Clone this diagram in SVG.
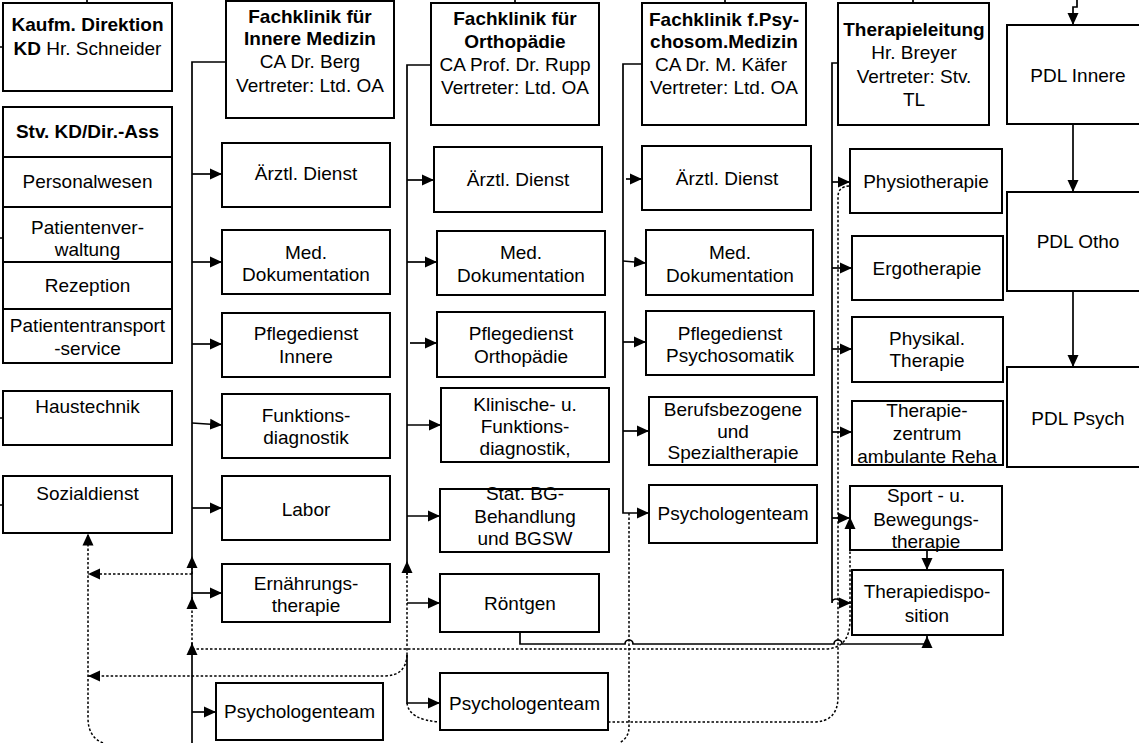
<svg xmlns="http://www.w3.org/2000/svg" width="1139" height="743" viewBox="0 0 1139 743">
<style>
.box{fill:#fff;stroke:#000;stroke-width:2}
.ln{fill:none;stroke:#000;stroke-width:2}
.t{font-family:"Liberation Sans",Arial,sans-serif;font-size:19px;text-anchor:middle;fill:#000}
.b{font-weight:bold}
.c{fill:none;stroke:#000;stroke-width:1.7}
.d{fill:none;stroke:#000;stroke-width:1.5;stroke-dasharray:2.5 2}
</style>
<defs>
<marker id="a" viewBox="0 0 12 12" refX="12" refY="6" markerWidth="12" markerHeight="12" markerUnits="userSpaceOnUse" orient="auto">
<path d="M0,0.5 L12,6 L0,11.5z" fill="#000"/>
</marker>
</defs>
<rect width="1139" height="743" fill="#fff"/>

<g id="kaufm">
<rect class="box" x="3" y="3" width="169" height="88"/>
<text class="t" x="87.5" y="31"><tspan class="b">Kaufm. Direktion</tspan></text>
<text class="t" x="87.5" y="54.5"><tspan class="b">KD</tspan> Hr. Schneider</text>
</g>
<g id="stv">
<rect class="box" x="3" y="107" width="169" height="256"/>
<path class="ln" d="M3,157 H172 M3,207 H172 M3,262 H172 M3,309 H172"/>
<text class="t b" x="87.5" y="138">Stv. KD/Dir.-Ass</text>
<text class="t" x="87.5" y="188">Personalwesen</text>
<text class="t" x="87.5" y="233.5">Patientenver-</text>
<text class="t" x="87.5" y="256">waltung</text>
<text class="t" x="87.5" y="292">Rezeption</text>
<text class="t" x="87.5" y="332">Patiententransport</text>
<text class="t" x="87.5" y="354.5">-service</text>
</g>
<g id="haustechnik">
<rect class="box" x="3" y="391" width="169" height="54"/>
<text class="t" x="87.5" y="412.5">Haustechnik</text>
</g>
<g id="sozialdienst">
<rect class="box" x="3" y="476" width="169" height="57"/>
<text class="t" x="87.5" y="500">Sozialdienst</text>
</g>

<g id="innere">
<rect class="box" x="226" y="1" width="168" height="117"/>
<text class="t" x="310" y="22.5"><tspan class="b">Fachklinik für</tspan><tspan class="b" x="310" y="45">Innere Medizin</tspan><tspan x="310" y="68">CA Dr. Berg</tspan><tspan x="310" y="91.5">Vertreter: Ltd. OA</tspan></text>
</g>
<g id="i-aerztl"><rect class="box" x="222" y="143" width="168" height="64"/><text class="t" x="306" y="180">Ärztl. Dienst</text></g>
<g id="i-med"><rect class="box" x="222" y="230" width="168" height="64"/><text class="t" x="306" y="259">Med.<tspan x="306" y="281">Dokumentation</tspan></text></g>
<g id="i-pflege"><rect class="box" x="222" y="313" width="168" height="64"/><text class="t" x="306" y="340">Pflegedienst<tspan x="306" y="363">Innere</tspan></text></g>
<g id="i-funktion"><rect class="box" x="222" y="394" width="168" height="64"/><text class="t" x="306" y="421.5">Funktions-<tspan x="306" y="443.5">diagnostik</tspan></text></g>
<g id="i-labor"><rect class="box" x="222" y="476" width="168" height="64"/><text class="t" x="306" y="515.5">Labor</text></g>
<g id="i-ernaehrung"><rect class="box" x="222" y="564" width="168" height="58"/><text class="t" x="306" y="590">Ernährungs-<tspan x="306" y="611.5">therapie</tspan></text></g>
<g id="i-psych"><rect class="box" x="216" y="683" width="167" height="57"/><text class="t" x="299.5" y="718">Psychologenteam</text></g>

<g id="ortho">
<rect class="box" x="431" y="3" width="168" height="122"/>
<text class="t" x="515" y="25"><tspan class="b">Fachklinik für</tspan><tspan class="b" x="515" y="47.5">Orthopädie</tspan><tspan x="515" y="70.5">CA Prof. Dr. Rupp</tspan><tspan x="515" y="93.5">Vertreter: Ltd. OA</tspan></text>
</g>
<g id="o-aerztl"><rect class="box" x="434" y="147" width="168" height="65"/><text class="t" x="518" y="186">Ärztl. Dienst</text></g>
<g id="o-med"><rect class="box" x="437" y="231" width="168" height="64"/><text class="t" x="521" y="259.3">Med.<tspan x="521" y="281.5">Dokumentation</tspan></text></g>
<g id="o-pflege"><rect class="box" x="437" y="312" width="168" height="65"/><text class="t" x="521" y="340">Pflegedienst<tspan x="521" y="362.5">Orthopädie</tspan></text></g>
<g id="o-klinisch"><rect class="box" x="441" y="388" width="168" height="74"/><text class="t" x="525" y="411">Klinische- u.<tspan x="525" y="433">Funktions-</tspan><tspan x="525" y="455">diagnostik,</tspan></text></g>
<g id="o-stat"><rect class="box" x="440" y="489" width="169" height="63"/><text class="t" x="525" y="500">Stat. BG-<tspan x="525" y="523">Behandlung</tspan><tspan x="525" y="545">und BGSW</tspan></text></g>
<g id="o-roentgen"><rect class="box" x="440" y="574" width="159" height="58"/><text class="t" x="520" y="610">Röntgen</text></g>
<g id="o-psych"><rect class="box" x="440" y="673" width="168" height="57"/><text class="t" x="524.5" y="710">Psychologenteam</text></g>

<g id="psychosom">
<rect class="box" x="642" y="3" width="164" height="122"/>
<text class="t" x="724" y="25.5"><tspan class="b">Fachklinik f.Psy-</tspan><tspan class="b" x="724" y="47.5">chosom.Medizin</tspan><tspan x="721" y="70.5">CA Dr. M. Käfer</tspan><tspan x="724" y="93.5">Vertreter: Ltd. OA</tspan></text>
</g>
<g id="p-aerztl"><rect class="box" x="642" y="146" width="169" height="64"/><text class="t" x="727" y="185">Ärztl. Dienst</text></g>
<g id="p-med"><rect class="box" x="646" y="230" width="167" height="65"/><text class="t" x="730" y="259.3">Med.<tspan x="730" y="281.5">Dokumentation</tspan></text></g>
<g id="p-pflege"><rect class="box" x="646" y="311" width="168" height="64"/><text class="t" x="730" y="340">Pflegedienst<tspan x="730" y="362">Psychosomatik</tspan></text></g>
<g id="p-beruf"><rect class="box" x="649" y="397" width="168" height="68"/><text class="t" x="733" y="416">Berufsbezogene<tspan x="733" y="437.5">und</tspan><tspan x="733" y="459">Spezialtherapie</tspan></text></g>
<g id="p-psych"><rect class="box" x="649" y="485" width="168" height="58"/><text class="t" x="733" y="520">Psychologenteam</text></g>

<g id="therapie">
<rect class="box" x="838" y="3" width="151" height="122"/>
<text class="t" x="914" y="36"><tspan class="b">Therapieleitung</tspan><tspan x="914" y="59">Hr. Breyer</tspan><tspan x="914" y="82.5">Vertreter: Stv.</tspan><tspan x="914" y="105.5">TL</tspan></text>
</g>
<g id="t-physio"><rect class="box" x="850" y="149" width="152" height="64"/><text class="t" x="926" y="187.5">Physiotherapie</text></g>
<g id="t-ergo"><rect class="box" x="852" y="236" width="151" height="64"/><text class="t" x="927" y="275">Ergotherapie</text></g>
<g id="t-physikal"><rect class="box" x="852" y="317" width="151" height="65"/><text class="t" x="927" y="345">Physikal.<tspan x="927" y="367">Therapie</tspan></text></g>
<g id="t-zentrum"><rect class="box" x="852" y="401" width="151" height="64"/><text class="t" x="927" y="416.5">Therapie-<tspan x="927" y="440">zentrum</tspan><tspan x="927" y="462.5">ambulante Reha</tspan></text></g>
<g id="t-sport"><rect class="box" x="850" y="486" width="152" height="64"/><text class="t" x="926" y="502">Sport - u.<tspan x="926" y="526">Bewegungs-</tspan><tspan x="926" y="548">therapie</tspan></text></g>
<g id="t-dispo"><rect class="box" x="852" y="570" width="151" height="65"/><text class="t" x="927" y="598">Therapiedispo-<tspan x="927" y="621.5">sition</tspan></text></g>

<g id="pdl-innere"><rect class="box" x="1007" y="25" width="142" height="99"/><text class="t" x="1078" y="81.5">PDL Innere</text></g>
<g id="pdl-otho"><rect class="box" x="1007" y="192" width="142" height="99"/><text class="t" x="1078" y="248">PDL Otho</text></g>
<g id="pdl-psych"><rect class="box" x="1007" y="367" width="142" height="100"/><text class="t" x="1078" y="425">PDL Psych</text></g>

<g id="connectors">
<path class="c" d="M87,0 V3 M515,0 V3 M725,0 V3 M913,0 V3 M0,47 H3 M0,238 H3 M0,418 H3 M0,505 H3"/>
<!-- Innere -->
<path class="c" d="M226,62 H192 V608"/>
<path class="c" d="M192,174 H222" marker-end="url(#a)"/>
<path class="c" d="M192,262 H222" marker-end="url(#a)"/>
<path class="c" d="M192,344 H222" marker-end="url(#a)"/>
<path class="c" d="M192,423 L222,425" marker-end="url(#a)"/>
<path class="c" d="M192,508 H222" marker-end="url(#a)"/>
<path class="c" d="M192,593 H222" marker-end="url(#a)"/>
<path class="c" d="M192,712 H216" marker-end="url(#a)"/>
<path class="c" d="M192,743 V643" marker-end="url(#a)"/>
<path class="d" d="M192,649 V597" marker-end="url(#a)"/>
<path class="d" d="M192,574 V556" marker-end="url(#a)"/>
<path class="d" d="M192,574 H88" marker-end="url(#a)"/>
<path class="d" d="M103,743 Q88,737 88,718 V533.5" marker-end="url(#a)"/>
<path class="d" d="M407,655 Q406,676 384,676 H88" marker-end="url(#a)"/>
<path class="d" d="M192,649 H826 Q850,648 850,620 V517" marker-end="url(#a)"/>
<!-- Ortho -->
<path class="c" d="M431,65 H407 V575"/>
<path class="c" d="M407,180 H434" marker-end="url(#a)"/>
<path class="c" d="M407,262 H437" marker-end="url(#a)"/>
<path class="c" d="M410,343 H437" marker-end="url(#a)"/>
<path class="c" d="M407,425 H441" marker-end="url(#a)"/>
<path class="c" d="M407,516 H440" marker-end="url(#a)"/>
<path class="c" d="M407,603 H440" marker-end="url(#a)"/>
<path class="d" d="M407,655 V561" marker-end="url(#a)"/>
<path class="c" d="M407,655 V703 H440" marker-end="url(#a)"/>
<path class="d" d="M407,703 Q409,720 440,722 M608,722 H813 Q838,722 838,697 V197 Q838,186 850,186"/>
<!-- Psychosom -->
<path class="c" d="M642,64 H623 V513 H649" marker-end="url(#a)"/>
<path class="c" d="M626,179 H642" marker-end="url(#a)"/>
<path class="c" d="M623,261 L646,263" marker-end="url(#a)"/>
<path class="c" d="M623,342 H646" marker-end="url(#a)"/>
<path class="c" d="M623,431 H649" marker-end="url(#a)"/>
<path class="d" d="M629,513 V727 Q629,738 619,743"/>
<path class="c" d="M520,632 V644 H625 A4,4 0 0 1 633,644 H834 A4,4 0 0 1 842,644 H927 V636" marker-end="url(#a)"/>
<!-- Therapie -->
<path class="c" d="M838,63 H832 V603 A4,4 0 0 1 840,603 H851" marker-end="url(#a)"/>
<path class="c" d="M832,182 H850" marker-end="url(#a)"/>
<path class="c" d="M832,268 H852" marker-end="url(#a)"/>
<path class="c" d="M832,349 H852" marker-end="url(#a)"/>
<path class="c" d="M832,432 H852" marker-end="url(#a)"/>
<path class="c" d="M832,518 H850" marker-end="url(#a)"/>
<path class="c" d="M927,550 V570" marker-end="url(#a)"/>
<!-- PDL -->
<path class="c" d="M1077,0 V7 H1073 V25" marker-end="url(#a)"/>
<path class="c" d="M1073,124 V192" marker-end="url(#a)"/>
<path class="c" d="M1073,291 V367" marker-end="url(#a)"/>
</g>
</svg>
